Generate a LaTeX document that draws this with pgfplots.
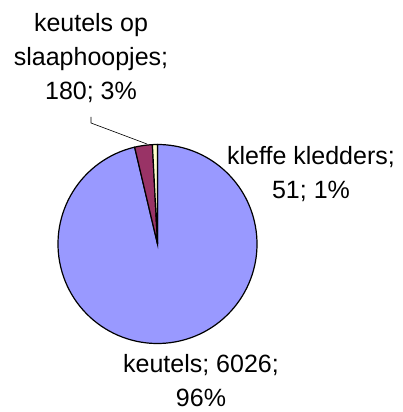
\documentclass[border=0pt]{standalone}
\usepackage{fontspec}
\setmainfont{Liberation Sans}
\usepackage{pgfplots}
\pgfplotsset{compat=1.18}
\definecolor{sliceA}{HTML}{9999FF}
\definecolor{sliceB}{HTML}{993366}
\definecolor{sliceC}{HTML}{FFFFCC}
\begin{document}
\begin{tikzpicture}
% data values
\def\vA{6026}% keutels
\def\vB{180}% keutels op slaaphoopjes
\def\vC{51}% kleffe kledders
\pgfmathsetmacro{\tot}{\vA+\vB+\vC}
\pgfmathsetmacro{\aA}{\vA/\tot*360}
\pgfmathsetmacro{\aB}{\vB/\tot*360}
\pgfmathsetmacro{\aC}{\vC/\tot*360}
\pgfmathsetmacro{\sC}{90}
\pgfmathsetmacro{\eC}{90+\aC}
\pgfmathsetmacro{\eB}{\eC+\aB}
\pgfmathsetmacro{\eA}{450}
\begin{axis}[scale only axis, width=403bp, height=412bp,
  xmin=0, xmax=403, ymin=0, ymax=412, hide axis, clip=false]
\filldraw[fill=sliceA, draw=black, line width=1.2bp] (axis cs:157.5,168) -- ++(\eB:99.5bp) arc[start angle=\eB, end angle=\eA, radius=99.5bp] -- cycle;
\filldraw[fill=sliceB, draw=black, line width=1.2bp] (axis cs:157.5,168) -- ++(\eC:99.5bp) arc[start angle=\eC, end angle=\eB, radius=99.5bp] -- cycle;
\filldraw[fill=sliceC, draw=black, line width=1.2bp] (axis cs:157.5,168) -- ++(\sC:99.5bp) arc[start angle=\sC, end angle=\eC, radius=99.5bp] -- cycle;
\draw[line width=0.6bp] (axis cs:91,295) -- (axis cs:91,289) -- (axis cs:147,268);
\node[align=center, font=\fontsize{25bp}{34bp}\selectfont, inner sep=0pt] at (axis cs:91,353.5) {keutels op\\slaaphoopjes;\\180; 3\%};
\node[align=center, font=\fontsize{25bp}{34bp}\selectfont, inner sep=0pt] at (axis cs:311,237.5) {kleffe kledders;\\51; 1\%};
\node[align=center, font=\fontsize{25bp}{34bp}\selectfont, inner sep=0pt] at (axis cs:201,31) {keutels; 6026;\\96\%};
\end{axis}
\pgfresetboundingbox
\useasboundingbox (current axis.south west) rectangle (current axis.north east);
\end{tikzpicture}
\end{document}
